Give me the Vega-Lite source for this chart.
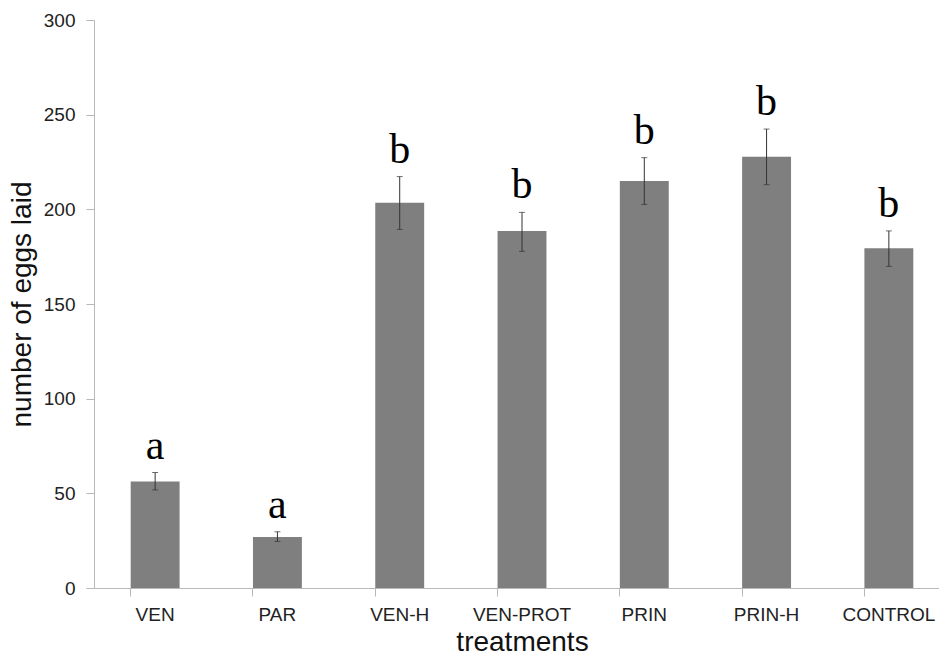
{
  "$schema": "https://vega.github.io/schema/vega-lite/v6.json",
  "autosize": "none",
  "width": 856,
  "height": 568,
  "padding": {"left": 94, "top": 20, "right": 0, "bottom": 71},
  "background": "white",
  "data": {
    "values": [
      {"treatment": "VEN", "eggs": 56.2, "lo": 51.8, "hi": 61.0, "group": "a"},
      {"treatment": "PAR", "eggs": 26.9, "lo": 24.6, "hi": 29.7, "group": "a"},
      {"treatment": "VEN-H", "eggs": 203.5, "lo": 189.4, "hi": 217.3, "group": "b"},
      {"treatment": "VEN-PROT", "eggs": 188.6, "lo": 177.8, "hi": 198.4, "group": "b"},
      {"treatment": "PRIN", "eggs": 215.0, "lo": 202.6, "hi": 227.3, "group": "b"},
      {"treatment": "PRIN-H", "eggs": 227.8, "lo": 213.0, "hi": 242.4, "group": "b"},
      {"treatment": "CONTROL", "eggs": 179.4, "lo": 169.9, "hi": 188.6, "group": "b"}
    ]
  },
  "encoding": {
    "x": {
      "field": "treatment",
      "type": "nominal",
      "sort": null,
      "scale": {"paddingInner": 0.6, "paddingOuter": 0.3},
      "axis": {
        "title": "treatments",
        "titleFont": "Liberation Sans",
        "titleFontSize": 28,
        "titleFontWeight": "normal",
        "titleColor": "#111",
        "titlePadding": 4,
        "labelFont": "Liberation Sans",
        "labelFontSize": 19,
        "labelColor": "#222",
        "labelAngle": 0,
        "labelPadding": 9,
        "tickSize": 8,
        "tickColor": "#b8b8b8",
        "bandPosition": 0,
        "domainColor": "#b8b8b8",
        "grid": false
      }
    }
  },
  "layer": [
    {
      "mark": {"type": "bar", "color": "#7f7f7f"},
      "encoding": {
        "y": {
          "field": "eggs",
          "type": "quantitative",
          "scale": {"domain": [0, 300], "nice": false},
          "axis": {
            "title": "number of eggs laid",
            "titleFont": "Liberation Sans",
            "titleFontSize": 28,
            "titleFontWeight": "normal",
            "titleColor": "#111",
            "titlePadding": 7,
            "labelFont": "Liberation Sans",
            "labelFontSize": 19,
            "labelColor": "#222",
            "labelPadding": 11,
            "tickSize": 8,
            "tickColor": "#b8b8b8",
            "domainColor": "#b8b8b8",
            "values": [0, 50, 100, 150, 200, 250, 300],
            "grid": false
          }
        }
      }
    },
    {
      "mark": {"type": "rule", "color": "#333", "strokeWidth": 1},
      "encoding": {
        "y": {"field": "lo", "type": "quantitative"},
        "y2": {"field": "hi"}
      }
    },
    {
      "mark": {"type": "tick", "color": "#333", "size": 6, "thickness": 1, "orient": "horizontal"},
      "encoding": {"y": {"field": "lo", "type": "quantitative"}}
    },
    {
      "mark": {"type": "tick", "color": "#333", "size": 6, "thickness": 1, "orient": "horizontal"},
      "encoding": {"y": {"field": "hi", "type": "quantitative"}}
    },
    {
      "mark": {"type": "text", "font": "Liberation Serif", "fontSize": 42, "baseline": "alphabetic", "dy": -14, "color": "#000"},
      "encoding": {
        "y": {"field": "hi", "type": "quantitative"},
        "text": {"field": "group"}
      }
    }
  ],
  "config": {"view": {"stroke": null}}
}
